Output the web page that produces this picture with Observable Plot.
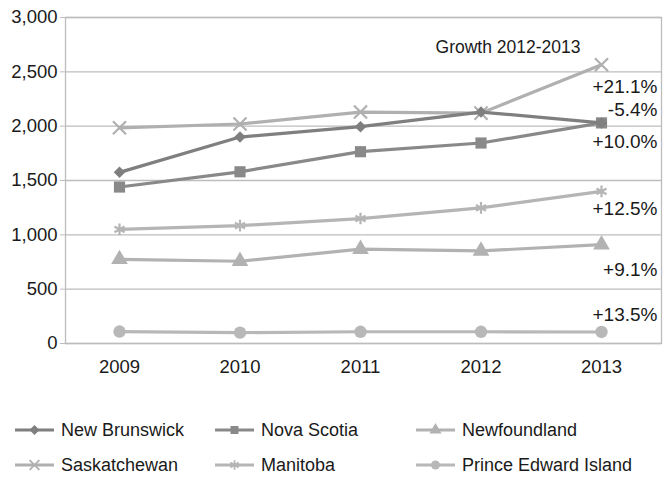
<!DOCTYPE html>
<html><head><meta charset="utf-8">
<script src="https://cdn.jsdelivr.net/npm/d3@7"></script>
<script src="https://cdn.jsdelivr.net/npm/@observablehq/plot@0.6"></script>
<style>
body{margin:0;background:#fff;}
#wrap{position:relative;width:663px;height:478px;overflow:hidden;font-family:"Liberation Sans",Arial,sans-serif;}
.leg{position:absolute;display:flex;align-items:center;font-size:18px;color:#1a1a1a;height:24px;white-space:nowrap;}
.leg svg{display:block;margin-right:6px;}
</style></head><body><div id="wrap"></div>
<script>
// ---- data ----
const years = [2009, 2010, 2011, 2012, 2013];
const provinces = ["New Brunswick", "Nova Scotia", "Newfoundland", "Saskatchewan", "Manitoba", "Prince Edward Island"];
const newBrunswick = [1575, 1900, 1995, 2130, 2030];
const novaScotia   = [1440, 1580, 1765, 1845, 2030];
const newfoundland = [775, 757, 868, 852, 910];
const saskatchewan = [1985, 2020, 2130, 2120, 2565];
const manitoba     = [1050, 1085, 1150, 1248, 1400];
const pei          = [110, 100, 108, 108, 106];
const growthLabels = ["-5.4%", "+10.0%", "+9.1%", "+21.1%", "+12.5%", "+13.5%"];
const yTicks = [0, 500, 1000, 1500, 2000, 2500, 3000];
const annotationTitle = "Growth 2012-2013";

// ---- styles (not data) ----
const seriesValues = [newBrunswick, novaScotia, newfoundland, saskatchewan, manitoba, pei];
const styles = [
  {color: "#7f7f7f", symbol: "diamond2", filled: true,  r: 5.2, dy: -13},
  {color: "#898989", symbol: "square",   filled: true,  r: 6.3, dy: 19},
  {color: "#b2b2b2", symbol: "triangle", filled: true,  r: 6.2, dy: 25},
  {color: "#b0b0b0", symbol: "times",    filled: false, r: 6,   dy: 22},
  {color: "#b5b5b5", symbol: "asterisk", filled: false, r: 5.5, dy: 18},
  {color: "#b8b8b8", symbol: "circle",   filled: true,  r: 6.2, dy: -17}
];

const rows = [];
provinces.forEach((p, i) => years.forEach((y, j) => rows.push({province: p, year: y, value: seriesValues[i][j], idx: i})));
const lastRows = provinces.map((p, i) => ({province: p, year: years[years.length - 1], value: seriesValues[i][years.length - 1], label: growthLabels[i], idx: i}));

const FONT = '"Liberation Sans",Arial,sans-serif';

const marks = [
  Plot.gridY(yTicks, {stroke: "#bdbdbd", strokeOpacity: 1, strokeWidth: 1.3}),
  Plot.frame({stroke: "#bdbdbd", strokeWidth: 1.3}),
  Plot.axisY(yTicks, {tickSize: 5, tickPadding: 3, tickFormat: d3.format(","), fontSize: 18.5, stroke: "#bdbdbd", color: "#1a1a1a", label: null}),
  Plot.axisX(years, {tickSize: 0, tickPadding: 16, tickFormat: d => String(d), fontSize: 18.5, color: "#1a1a1a", label: null}),
];
[5, 2, 4, 3, 1, 0].forEach(i => {
  const s = styles[i];
  const data = rows.filter(d => d.idx === i);
  marks.push(Plot.line(data, {x: "year", y: "value", stroke: s.color, strokeWidth: 3.2}));
  marks.push(Plot.dot(data, {x: "year", y: "value", symbol: () => s.symbol, r: s.r,
    fill: s.filled ? s.color : "none", stroke: s.color, strokeWidth: s.filled ? 0 : 2.2}));
});

const chart = Plot.plot({
  width: 663, height: 380,
  marginLeft: 65, marginRight: 2, marginTop: 17, marginBottom: 37,
  style: {fontFamily: FONT, background: "#fff", overflow: "visible"},
  x: {type: "linear", domain: [years[0], years[years.length - 1]], range: [119, 601], axis: null},
  y: {domain: [0, 3000], axis: null},
  symbol: {type: "identity"},
  marks: [
    ...marks,
    ...styles.map((s, i) => Plot.text(lastRows.filter(d => d.idx === i), {x: "year", y: "value", text: "label", dx: 56, dy: s.dy, textAnchor: "end", fontSize: 19, fill: "#1a1a1a"})),
    Plot.text([annotationTitle], {x: years[3], y: yTicks[yTicks.length - 1], text: d => d, dx: 27, dy: 30, fontSize: 17.5, fill: "#1a1a1a"})
  ]
});
const wrap = document.getElementById("wrap");
chart.style.position = "absolute";
chart.style.left = "0"; chart.style.top = "0";
wrap.appendChild(chart);

// ---- legend (HTML below the svg) ----
const legendPos = [[15, 418], [215, 418], [416, 418], [15, 453], [215, 453], [416, 453]];
const symMap = {diamond2: d3.symbolDiamond2, square: d3.symbolSquare, triangle: d3.symbolTriangle, times: d3.symbolTimes, asterisk: d3.symbolAsterisk, circle: d3.symbolCircle};
provinces.forEach((p, i) => {
  const s = styles[i];
  const div = document.createElement("div");
  div.className = "leg";
  div.style.left = legendPos[i][0] + "px";
  div.style.top = legendPos[i][1] + "px";
  const svg = d3.create("svg").attr("width", 40).attr("height", 20);
  svg.append("line").attr("x1", 0).attr("x2", 39).attr("y1", 10).attr("y2", 10).attr("stroke", s.color).attr("stroke-width", 3);
  svg.append("path").attr("transform", "translate(19.5,10)")
    .attr("d", d3.symbol(symMap[s.symbol], Math.PI * 4.5 * 4.5)())
    .attr("fill", s.filled ? s.color : "none").attr("stroke", s.filled ? "none" : s.color).attr("stroke-width", 1.8);
  div.appendChild(svg.node());
  const span = document.createElement("span");
  span.textContent = p;
  div.appendChild(span);
  wrap.appendChild(div);
});
</script>
</body></html>
